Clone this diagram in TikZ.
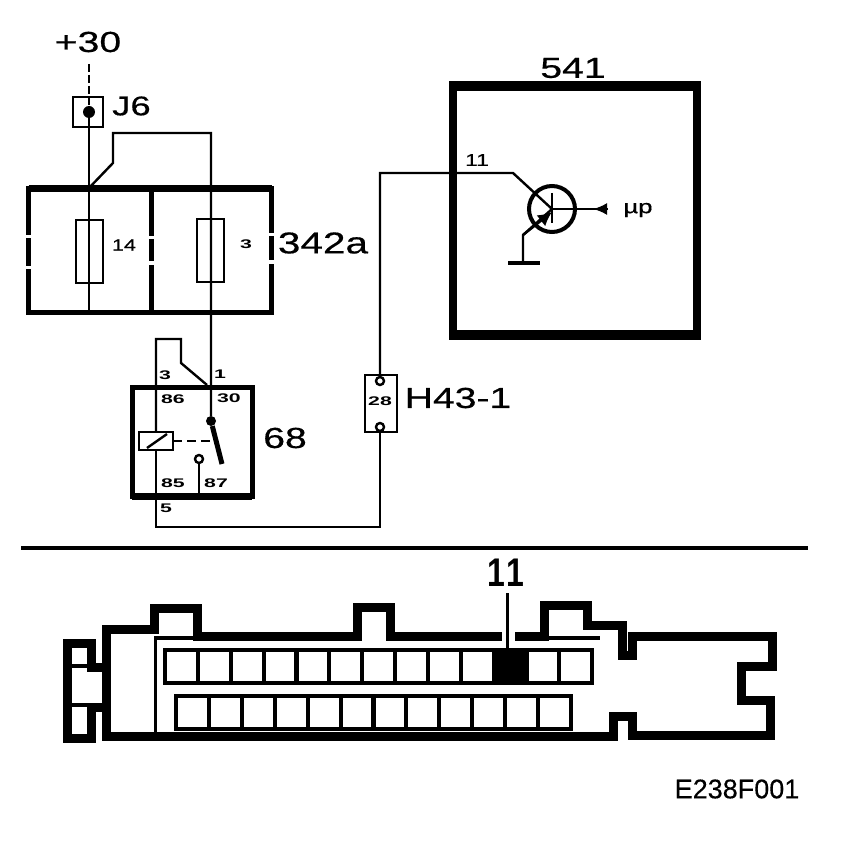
\documentclass[tikz,border=0pt]{standalone}
\usepackage{fontspec}
\usepackage{tikz}
\usetikzlibrary{arrows.meta}
\newfontfamily\widefont[FakeStretch=1.35,FakeBold=0.5]{Liberation Sans}
\newfontfamily\tinyfont[FakeStretch=1.7]{Liberation Sans Bold}
\newfontfamily\plainfont[FakeStretch=0.8]{Liberation Sans Bold}
\newfontfamily\figfont[FakeBold=0.3]{Liberation Sans}

\begin{document}
\begin{tikzpicture}[
      x=1pt, y=-1pt,
      wire/.style={line width=2.4pt},
      lbl/.style={font=\widefont\fontsize{#1}{#1}\selectfont, inner sep=0pt},
      tinylbl/.style={font=\tinyfont\fontsize{12.5}{12.5}\selectfont, inner sep=0pt},
      fusebox/.style={draw, line width=2.4pt, minimum width=27pt, minimum height=63pt, inner sep=0pt, outer sep=0pt},
      cellbox/.style={draw, line width=4pt, minimum width=33pt, minimum height=33pt, inner sep=0pt, outer sep=0pt},
      heavybox/.style={draw, line width=#1, inner sep=0pt, outer sep=0pt},
      contact/.style={circle, draw, fill=white, line width=2.4pt, minimum size=8pt, inner sep=0pt, outer sep=0pt}
      ]
	  \useasboundingbox (0,0) rectangle (864,842);

	  % supply and fuse box
	  \node[lbl=29] (plus30) at (88,42) {+30};
	  \coordinate (feed) at (89,64);
	  \node[heavybox=2.4pt, minimum size=30pt] (j6) at (88,112) {};
	  \node[circle, fill, minimum size=12pt, inner sep=0pt] (j6dot) at (89,112) {};
	  \node[lbl=27, anchor=west] (j6lbl) at (112,106) {J6};
	  \node[heavybox=5pt, minimum width=243pt, minimum height=123pt] (b342) at (150,250.5) {};
	  \node[lbl=30] (b342lbl) at (323,243) {342a};
	  \node[fusebox] (f14) at (89.5,251.5) {};
	  \node[fusebox] (f3) at (210.5,250.5) {};
	  \node[lbl=16] (f14lbl) at (124,245) {14};
	  \node[tinylbl] (f3lbl) at (246,244) {3};

	  \coordinate (split) at (89,188);
	  \coordinate (f14end) at (89,312);
	  \coordinate (loopa) at (113,163);
	  \coordinate (loopb) at (113,133);
	  \coordinate (loopc) at (211,133);

	  % relay
	  \node[heavybox=5pt, minimum width=120pt, minimum height=109pt] (relay) at (192,441.5) {};
	  \node[heavybox=2.4pt, minimum width=34pt, minimum height=18pt, fill=white] (coil) at (156,441) {};
	  \node[circle, fill, minimum size=10pt, inner sep=0pt] (pivot) at (211,421) {};
	  \coordinate (blade) at (222,464);
	  \node[contact] (c87) at (199,459) {};
	  \node[lbl=29] (relaylbl) at (285,438) {68};
	  \node[tinylbl] (p3) at (165,375) {3};
	  \node[tinylbl] (p1) at (220,374) {1};
	  \node[tinylbl] (p86) at (173,399) {86};
	  \node[tinylbl] (p30) at (229,398) {30};
	  \node[tinylbl] (p85) at (173,483) {85};
	  \node[tinylbl] (p87) at (216,483) {87};
	  \node[tinylbl] (p5) at (166,508) {5};

	  % plug H43-1
	  \node[heavybox=2.4pt, minimum width=32pt, minimum height=57pt, fill=white] (h43) at (381,403.5) {};
	  \node[contact] (h43a) at (380,381) {};
	  \node[contact] (h43b) at (380,427) {};
	  \node[tinylbl] (h43pin) at (380,401) {28};
	  \node[lbl=29] (h43lbl) at (458,398) {H43-1};

	  % control unit
	  \node[heavybox=8pt, minimum width=244pt, minimum height=249pt] (ecu) at (575,210.5) {};
	  \node[lbl=29] (ecu541) at (573,68) {541};
	  \node[lbl=17] (pin11) at (477,160) {11};
	  \node[circle, draw, line width=4pt, minimum size=46pt, inner sep=0pt, outer sep=0pt] (tr) at (552,209) {};
	  \coordinate (tr1) at (513,173);
	  \coordinate (tr2) at (552,193);
	  \coordinate (tr3) at (552,223);
	  \coordinate (tr4) at (523,235);
	  \coordinate (gnd) at (523,263);
	  \coordinate (stub) at (608,209);
	  \coordinate (tip) at (593,209);
	  \node[lbl=19] (mup) at (638,210) {µp};

	  % Connect the nodes
	  \draw[wire, dash pattern=on 8pt off 3pt] (feed) -- (j6dot);
	  \draw[wire] (j6dot) -- (split) -- (f14end);
	  \draw[wire] (split) -- (loopa) -- (loopb) -- (loopc) -- (pivot);
	  \draw[wire] (pivot) -- (p1.south -| pivot);
	  \draw[line width=5pt] (pivot) -- (blade);
	  \draw[wire, dash pattern=on 9pt off 5pt] (coil) ++(17,0) -- (pivot |- coil);
	  \draw[wire] (c87) -- (c87 |- relay.south);
	  \draw[wire] (coil.south west) ++(8,-2) -- ++(20,-14);
	  \draw[wire] (coil.north -| 156,0) -- (156,339) -- (181,339) -- (181,363) -- (207,385);
	  \draw[wire] (coil.south) -- (156,527) -- (h43b |- 0,527) -- (h43b);
	  \draw[wire] (h43a) -- (h43a |- tr1) -- (tr1) -- (tr.center);
	  \draw[wire] (tr2) -- (tr3);
	  \draw[wire] (gnd) -- (tr4) -- (tr.center);
	  \draw[{Latex[length=14pt,width=14pt]}-, wire] (552,212) -- (tr4);
	  \draw[line width=4pt] (gnd) ++(-15,0) -- ++(32,0);
	  \draw[wire] (tr) -- (stub);
	  \draw[wire, -{Latex[length=14pt,width=12pt]}] (stub) -- (tip);
	  \draw[wire] (tr.center) -- (tip);

	  % heavier edges
	  \draw[line width=7pt] (b342.north west) -- (b342.north east);
	  \draw[line width=7pt] (relay.south west) -- (relay.south east);
	  \draw[line width=10pt] (ecu.north west) ++(-4,0) -- ++(252,0);
	  \draw[line width=10pt] (ecu.south west) ++(-4,0) -- ++(252,0);

	  % breaks in the fuse box walls
	  \draw[line width=5pt] (151,189) -- (151,312);
	  \foreach \x/\y in {28/237, 28/267, 151/238, 151/263, 271/235, 271/262}
	    \fill[white] (\x-4,\y-1.5) rectangle (\x+4,\y+1.5);

	  % separator
	  \coordinate (sepa) at (21,547.5);
	  \coordinate (sepb) at (808,547.5);
	  \draw[line width=4pt] (sepa) -- (sepb);

	  % connector outline
	  \draw[line width=9pt] (515,636) -- (544,636) -- (544,605) -- (587,605) -- (587,625) -- (622,625)
	    -- (622,655) -- (632,655) -- (632,636) -- (772,636) -- (772,666) -- (741,666) -- (741,700)
	    -- (770,700) -- (770,735) -- (632,735) -- (632,716) -- (613,716) -- (613,736) -- (106,736)
	    -- (106,629) -- (150,629) -- (154,629) -- (154,608) -- (197,608) -- (197,636) -- (357,636)
	    -- (357,607) -- (390,607) -- (390,636) -- (502,636);
	  \draw[line width=9pt] (106,667) -- (91,667) -- (91,643) -- (67,643) -- (67,738) -- (91,738) -- (91,707) -- (106,707);
	  \draw[line width=4pt] (71,665.5) -- (91,665.5);
	  \draw[line width=4pt] (71,705) -- (91,705);
	  \draw[line width=3pt] (155,636) -- (155,734);
	  \draw[line width=4pt] (155,638) -- (197,638);
	  \draw[line width=4pt] (544,638) -- (600,638);

	  % cavities
	  \foreach \i in {0,...,12}
	    \node[cellbox] (top\i) at (181.5+32.85*\i,666) {};
	  \foreach \i in {0,...,11}
	    \node[cellbox] (low\i) at (192.5+32.9*\i,712.5) {};
	  \fill (top10.north west) rectangle (top10.south east);
	  \node[font=\plainfont\fontsize{40}{40}\selectfont, inner sep=0pt] (cav11) at (506,573) {1\kern1pt 1};
	  \coordinate (cavpin) at (507,593);
	  \draw[line width=3pt] (cavpin) -- (cavpin |- top10.north);

	  \node[font=\figfont\fontsize{27}{27}\selectfont, inner sep=0pt] (figno) at (737,789) {E238F001};
\end{tikzpicture}
\end{document}
